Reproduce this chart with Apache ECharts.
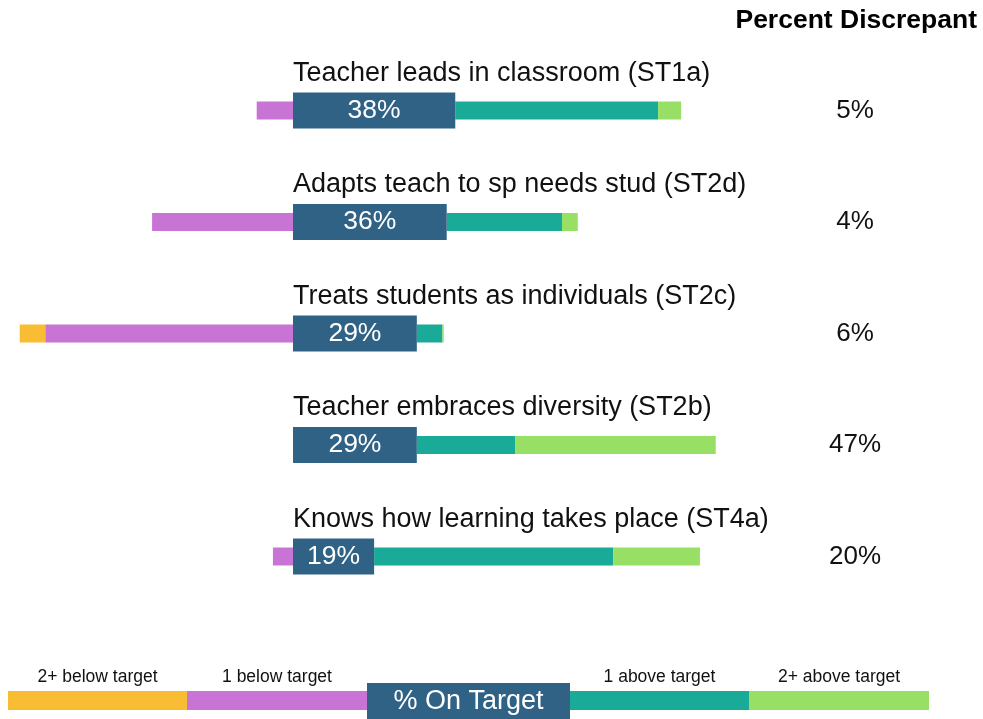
<!DOCTYPE html>
<html>
<head>
<meta charset="utf-8">
<script src="https://cdn.jsdelivr.net/npm/echarts@6/dist/echarts.min.js"></script>
<style>
  html, body { margin: 0; padding: 0; background: #fff; }
  #chart { width: 983px; height: 719px; }
</style>
</head>
<body>
<div id="chart"></div>
<script>
// items, top to bottom
var categories = [
    'Teacher leads in classroom (ST1a)',
    'Adapts teach to sp needs stud (ST2d)',
    'Treats students as individuals (ST2c)',
    'Teacher embraces diversity (ST2b)',
    'Knows how learning takes place (ST4a)'
];
var below2 = [0, 0, 6, 0, 0];
var below1 = [8.5, 33, 58, 0, 4.7];
var onTarget = [38, 36, 29, 29, 19];
var above1 = [47.5, 27, 6, 23, 56];
var above2 = [5.4, 3.7, 0.3, 47, 20.3];
var discrepant = ['5%', '4%', '6%', '47%', '20%'];

var legendLabels = ['2+ below target', '1 below target', '% On Target', '1 above target', '2+ above target'];

var colors = {
    below2: '#f8bd33',
    below1: '#c874d4',
    on: '#306285',
    above1: '#1aaa98',
    above2: '#98e065'
};

var font = 'Liberation Sans, Arial, sans-serif';

var rows = categories.map(function (c, i) {
    return [i, below2[i], below1[i], onTarget[i], above1[i], above2[i]];
});

function renderRow(params, api) {
    var i = api.value(0);
    var b2 = api.value(1), b1 = api.value(2), on = api.value(3), a1 = api.value(4), a2 = api.value(5);
    var thin = 18, thick = 36;
    var center = api.coord([0, i]);
    var cy = center[1] + 1;

    function seg(from, to, h, color) {
        var p0 = api.coord([from, i]);
        var p1 = api.coord([to, i]);
        return {
            type: 'rect',
            shape: { x: p0[0], y: cy - h / 2, width: p1[0] - p0[0], height: h },
            style: { fill: color }
        };
    }

    var children = [
        seg(-(b1 + b2), -b1, thin, colors.below2),
        seg(-b1, 0, thin, colors.below1),
        seg(on, on + a1, thin, colors.above1),
        seg(on + a1, on + a1 + a2, thin, colors.above2),
        seg(0, on, thick, colors.on)
    ];
    var mid = api.coord([on / 2, i]);
    children.push({
        type: 'text',
        style: {
            x: mid[0], y: cy, text: Math.round(on) + '%',
            fill: '#fff', font: '26.5px ' + font, align: 'center', verticalAlign: 'middle'
        }
    });
    children.push({
        type: 'text',
        style: {
            x: center[0], y: cy - 37, text: categories[i],
            fill: '#111', font: '27px ' + font, align: 'left', verticalAlign: 'middle'
        }
    });
    children.push({
        type: 'text',
        style: {
            x: 855, y: cy, text: discrepant[i],
            fill: '#111', font: '26px ' + font, align: 'center', verticalAlign: 'middle'
        }
    });
    return { type: 'group', children: children };
}

// legend strip at the bottom
var legendColors = [colors.below2, colors.below1, colors.on, colors.above1, colors.above2];
var legendX = [8, 187, 367, 570, 749, 929];
var legendGraphics = [];
legendLabels.forEach(function (lbl, k) {
    var x0 = legendX[k], x1 = legendX[k + 1];
    if (k === 2) return;
    legendGraphics.push({
        type: 'rect', left: x0, top: 691,
        shape: { width: x1 - x0, height: 19 },
        style: { fill: legendColors[k] }
    });
    legendGraphics.push({
        type: 'text', x: (x0 + x1) / 2, y: 677,
        style: {
            text: lbl, fill: '#111', font: '17.5px ' + font,
            align: 'center', verticalAlign: 'middle'
        }
    });
});
legendGraphics.push({
    type: 'rect', left: legendX[2], top: 683,
    shape: { width: legendX[3] - legendX[2], height: 36 },
    style: { fill: colors.on }
});
legendGraphics.push({
    type: 'text', x: (legendX[2] + legendX[3]) / 2, y: 702,
    style: {
        text: legendLabels[2], fill: '#fff', font: '27px ' + font,
        align: 'center', verticalAlign: 'middle'
    }
});
legendGraphics.push({
    type: 'text', x: 977, y: 21,
    style: {
        text: 'Percent Discrepant', fill: '#000', font: 'bold 26.5px ' + font,
        align: 'right', verticalAlign: 'middle'
    }
});

var chart = echarts.init(document.getElementById('chart'));
chart.setOption({
    animation: false,
    grid: { left: 15.45, width: 918.05, top: 53.75, height: 557.5 },
    xAxis: {
        type: 'value', min: -65, max: 150, show: false
    },
    yAxis: {
        type: 'category', data: categories, inverse: true, show: false
    },
    series: [{
        type: 'custom',
        renderItem: renderRow,
        encode: { x: [1, 2, 3, 4, 5], y: 0 },
        data: rows
    }],
    graphic: legendGraphics
});
</script>
</body>
</html>
